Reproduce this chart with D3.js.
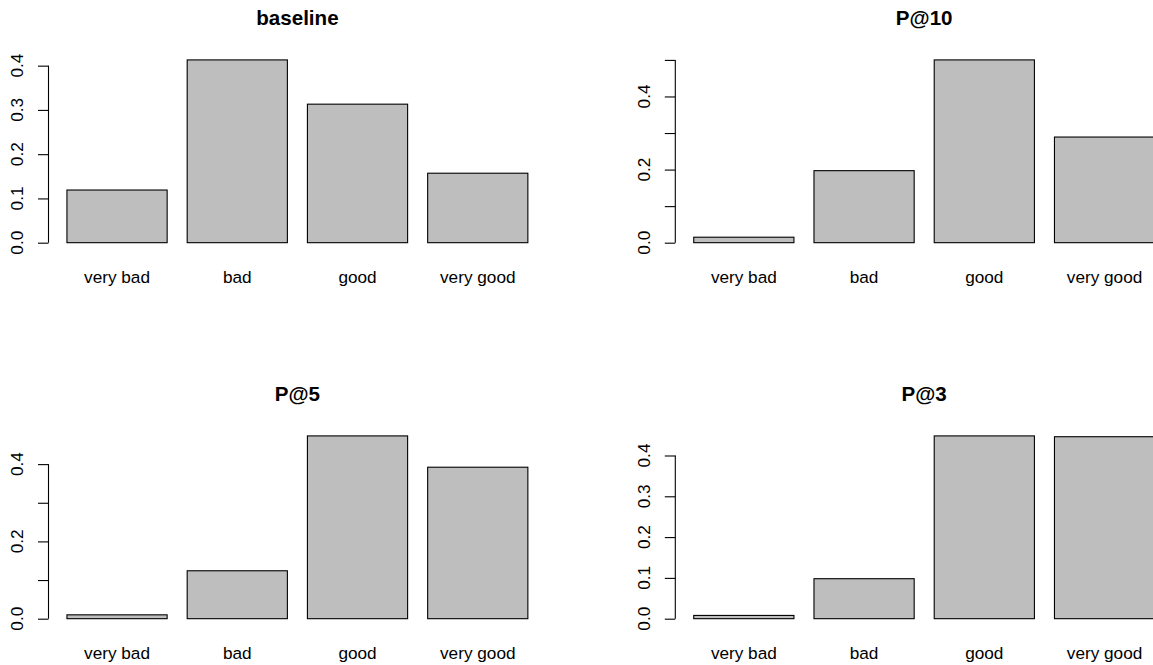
<!DOCTYPE html>
<html>
<head>
<meta charset="utf-8">
<script src="https://cdn.jsdelivr.net/npm/d3@7/dist/d3.min.js"></script>
<style>
  html, body { margin: 0; padding: 0; background: #fff; overflow: hidden; }
  svg { display: block; }
  text { font-family: "Liberation Sans", Arial, Helvetica, sans-serif; fill: #000; }
</style>
</head>
<body>
<script>
// ---- data ----
const categories = ["very bad", "bad", "good", "very good"];
const titles = ["baseline", "P@10", "P@5", "P@3"];
const baselineValues = [0.119, 0.413, 0.313, 0.157];
const p10Values = [0.015, 0.197, 0.500, 0.289];
const p5Values = [0.010, 0.124, 0.473, 0.392];
const p3Values = [0.008, 0.098, 0.448, 0.446];

const baselineTicks = [0, 0.1, 0.2, 0.3, 0.4];
const baselineTickLabels = ["0.0", "0.1", "0.2", "0.3", "0.4"];
const p10Ticks = [0, 0.1, 0.2, 0.3, 0.4, 0.5];
const p10TickLabels = ["0.0", "", "0.2", "", "0.4", ""];
const p5Ticks = [0, 0.1, 0.2, 0.3, 0.4];
const p5TickLabels = ["0.0", "", "0.2", "", "0.4"];
const p3Ticks = [0, 0.1, 0.2, 0.3, 0.4];
const p3TickLabels = ["0.0", "0.1", "0.2", "0.3", "0.4"];

// ---- layout ----
const W = 1153, H = 665;
const colOffset = 626.8, rowOffset = 376;
const plotLeft = 48.5, plotTop = 52.6, plotW = 497.8, plotH = 197.4;

const panels = [
  { title: titles[0], values: baselineValues, ticks: baselineTicks, tickLabels: baselineTickLabels, col: 0, row: 0 },
  { title: titles[1], values: p10Values, ticks: p10Ticks, tickLabels: p10TickLabels, col: 1, row: 0 },
  { title: titles[2], values: p5Values, ticks: p5Ticks, tickLabels: p5TickLabels, col: 0, row: 1 },
  { title: titles[3], values: p3Values, ticks: p3Ticks, tickLabels: p3TickLabels, col: 1, row: 1 }
];

const svg = d3.select("body").append("svg").attr("width", W).attr("height", H);

panels.forEach(p => {
  const x0 = p.col * colOffset + plotLeft;
  const y0 = p.row * rowOffset + plotTop;
  const g = svg.append("g");

  const x = d3.scaleBand()
    .domain(categories)
    .range([x0, x0 + plotW])
    .paddingInner(1 / 6)
    .paddingOuter(0.184 / 1.2);

  const vmax = d3.max(p.values);
  const y = d3.scaleLinear()
    .domain([-0.04 * vmax, 1.04 * vmax])
    .range([y0 + plotH, y0]);

  // bars
  g.selectAll("rect.bar")
    .data(p.values)
    .join("rect")
    .attr("class", "bar")
    .attr("x", (d, i) => x(categories[i]))
    .attr("width", x.bandwidth())
    .attr("y", d => y(d))
    .attr("height", d => y(0) - y(d))
    .attr("fill", "#bebebe")
    .attr("stroke", "#000")
    .attr("stroke-width", 1.1);

  // category labels
  g.selectAll("text.cat")
    .data(categories)
    .join("text")
    .attr("class", "cat")
    .attr("x", d => x(d) + x.bandwidth() / 2)
    .attr("y", y0 + plotH + 33)
    .attr("text-anchor", "middle")
    .style("font-size", "17.2px")
    .text(d => d);

  // y axis (R style: line spans first..last tick)
  const axis = d3.axisLeft(y)
    .tickValues(p.ticks)
    .tickSize(10.5)
    .tickSizeOuter(0)
    .tickFormat("");
  const ag = g.append("g").attr("transform", `translate(${x0},0)`).call(axis);
  ag.select(".domain").remove();
  ag.selectAll(".tick line").attr("stroke", "#000").attr("stroke-width", 1.1);
  g.append("line")
    .attr("x1", x0).attr("x2", x0)
    .attr("y1", y(p.ticks[0])).attr("y2", y(p.ticks[p.ticks.length - 1]))
    .attr("stroke", "#000").attr("stroke-width", 1.1);

  // rotated tick labels
  g.selectAll("text.tl")
    .data(p.ticks.map((t, i) => ({ t, lab: p.tickLabels[i] })).filter(d => d.lab !== ""))
    .join("text")
    .attr("class", "tl")
    .attr("transform", d => `translate(${x0 - 25.5},${y(d.t)}) rotate(-90)`)
    .attr("text-anchor", "middle")
    .style("font-size", "17.2px")
    .text(d => d.lab);

  // title
  g.append("text")
    .attr("x", x0 + plotW / 2)
    .attr("y", p.row * rowOffset + 25)
    .attr("text-anchor", "middle")
    .style("font-size", "20.6px")
    .style("font-weight", "bold")
    .text(p.title);
});
</script>
</body>
</html>
